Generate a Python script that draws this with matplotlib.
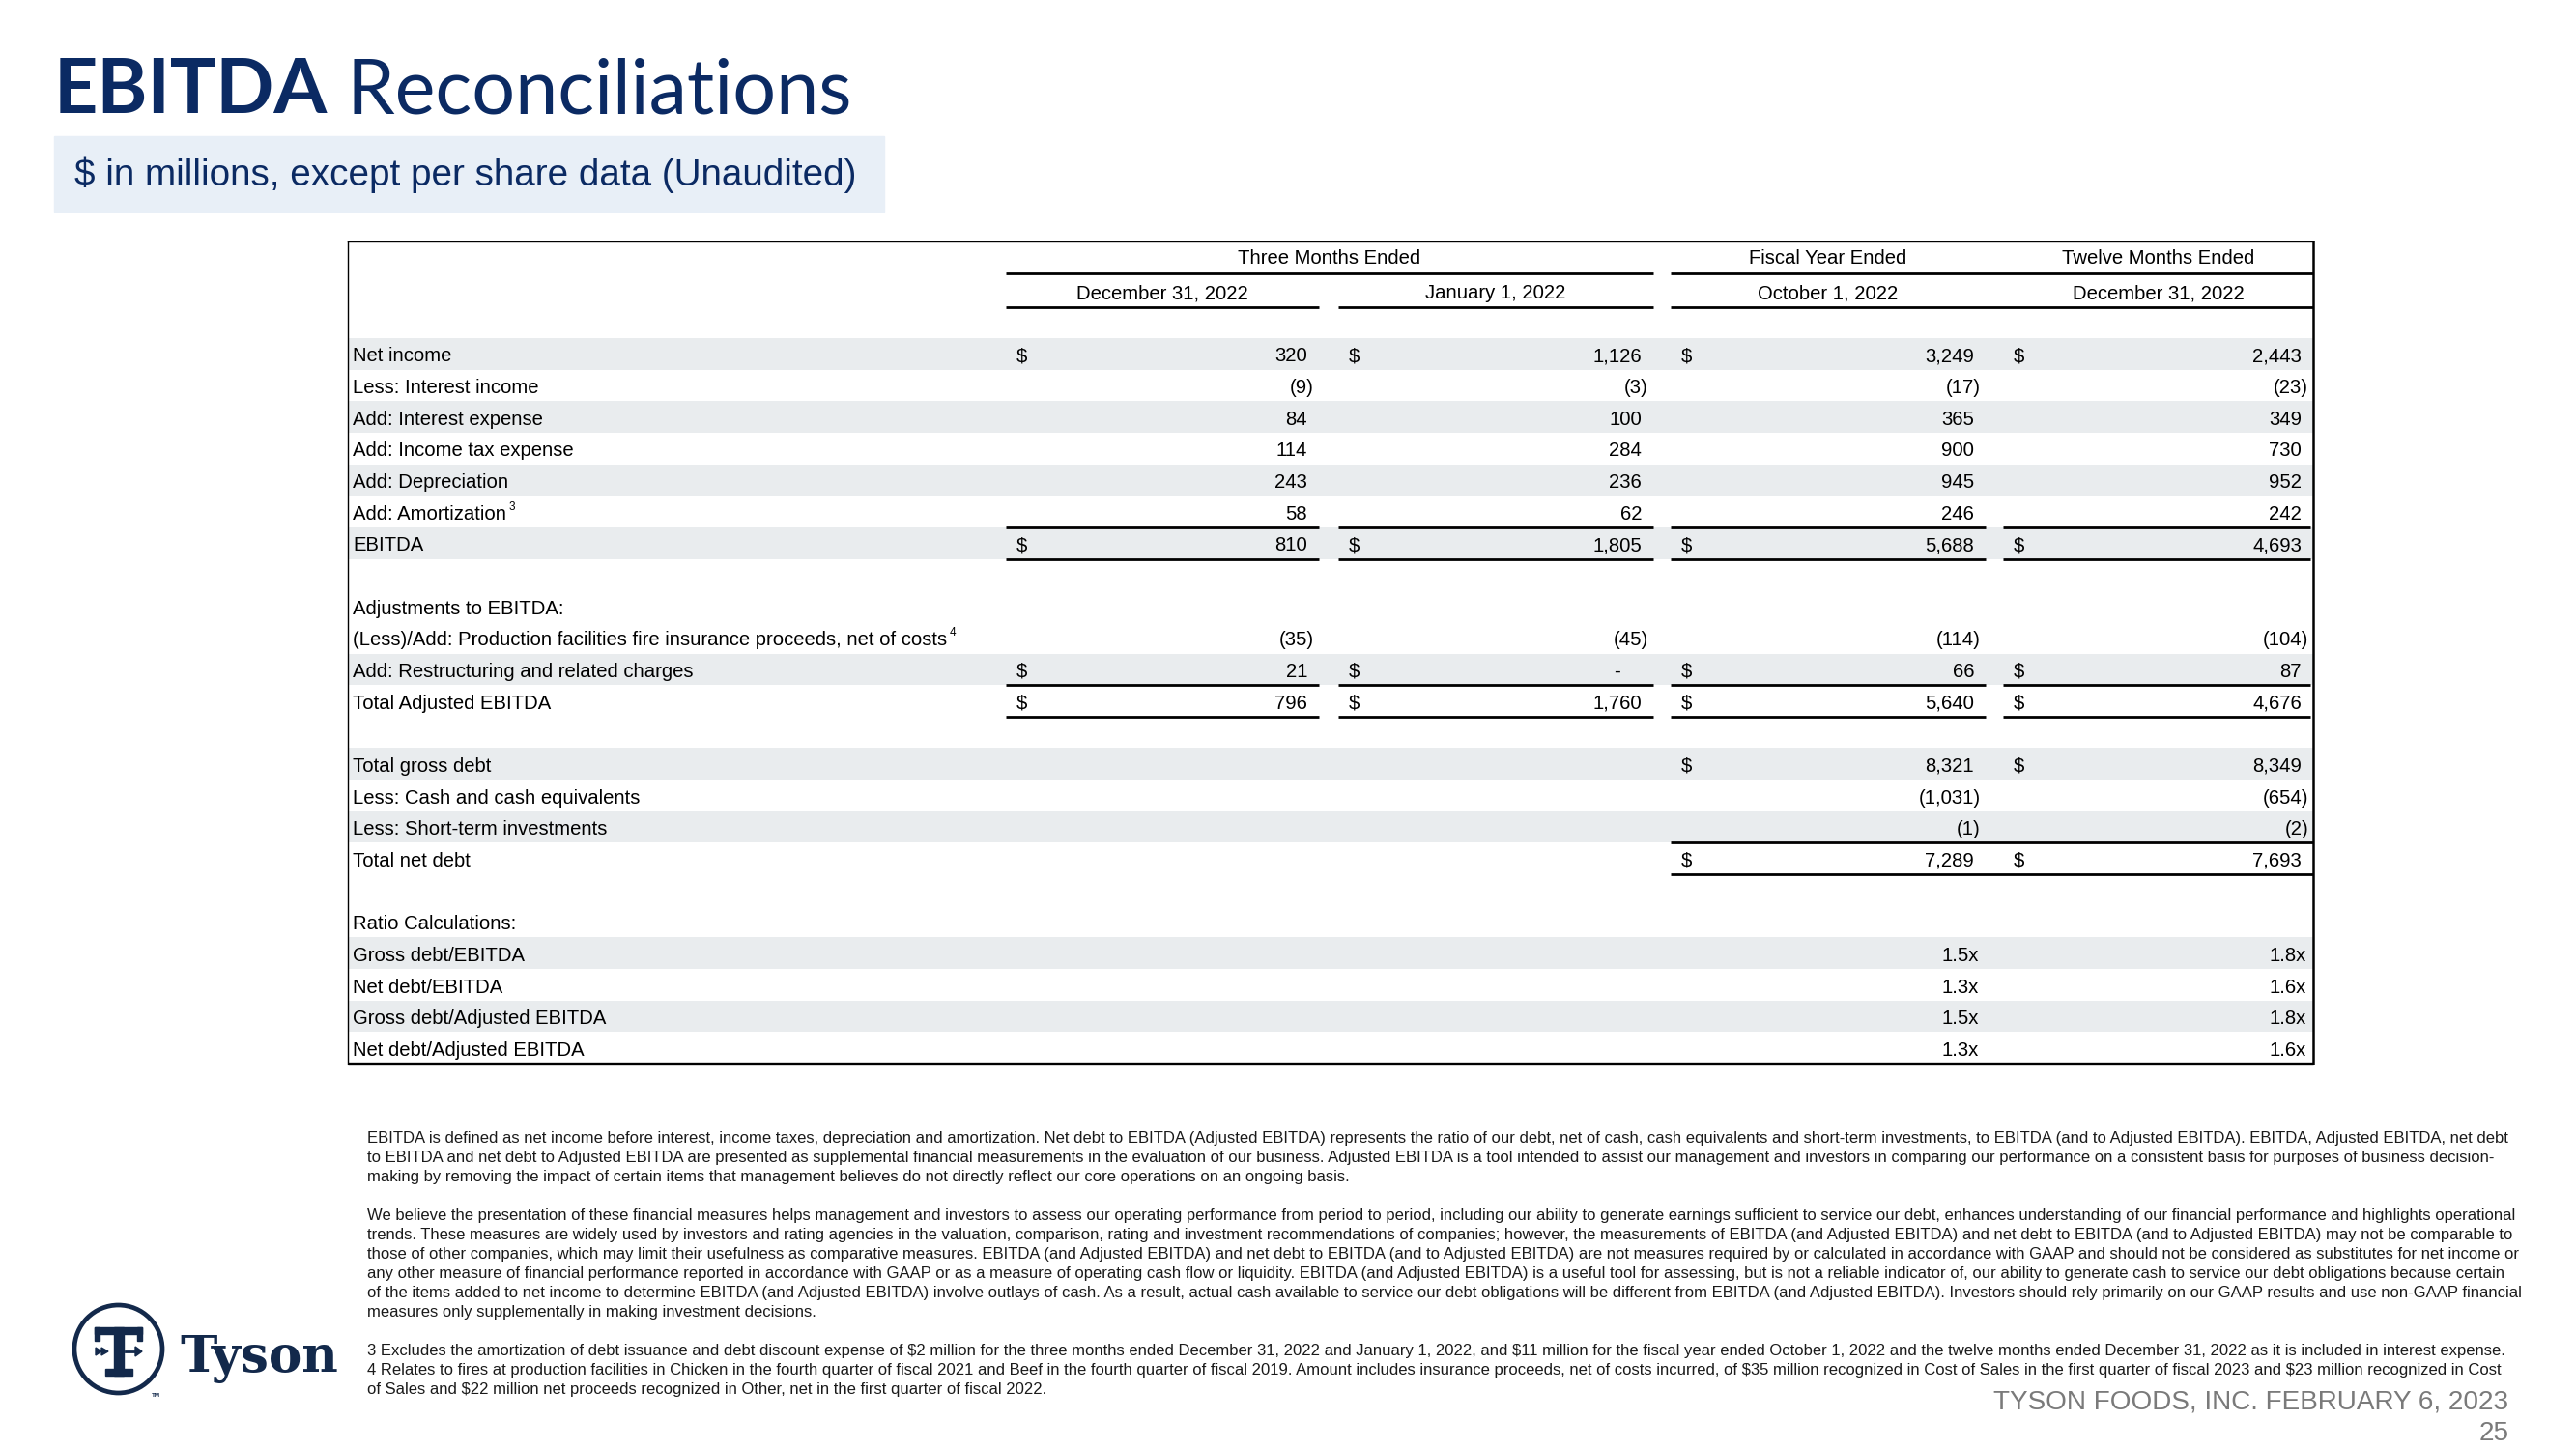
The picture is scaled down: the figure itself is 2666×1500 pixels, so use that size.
import matplotlib
matplotlib.use("Agg")
import matplotlib.pyplot as plt
from matplotlib import font_manager
from matplotlib.patches import Rectangle, Circle, Polygon

# ---- table content -------------------------------------------------------
labels = [
    "Net income", "Less: Interest income", "Add: Interest expense",
    "Add: Income tax expense", "Add: Depreciation", "Add: Amortization",
    "EBITDA", "",
    "Adjustments to EBITDA:",
    "(Less)/Add: Production facilities fire insurance proceeds, net of costs",
    "Add: Restructuring and related charges", "Total Adjusted EBITDA", "",
    "Total gross debt", "Less: Cash and cash equivalents",
    "Less: Short-term investments", "Total net debt", "",
    "Ratio Calculations:", "Gross debt/EBITDA", "Net debt/EBITDA",
    "Gross debt/Adjusted EBITDA", "Net debt/Adjusted EBITDA",
]
q1_fy23 = [320, -9, 84, 114, 243, 58, 810, None, None, -35, 21, 796] + [None] * 11
q1_fy22 = [1126, -3, 100, 284, 236, 62, 1805, None, None, -45, 0, 1760] + [None] * 11
fy22 = [3249, -17, 365, 900, 945, 246, 5688, None, None, -114, 66, 5640, None,
        8321, -1031, -1, 7289, None, None, 1.5, 1.3, 1.5, 1.3]
ltm_dec22 = [2443, -23, 349, 730, 952, 242, 4693, None, None, -104, 87, 4676, None,
             8349, -654, -2, 7693, None, None, 1.8, 1.6, 1.8, 1.6]
columns = [q1_fy23, q1_fy22, fy22, ltm_dec22]

group_headers = ["Three Months Ended", "Fiscal Year Ended", "Twelve Months Ended"]
col_headers = ["December 31, 2022", "January 1, 2022", "October 1, 2022", "December 31, 2022"]

ratio_rows = [19, 20, 21, 22]
dollar_rows = [0, 6, 10, 11, 13, 16]
shaded_rows = [0, 2, 4, 6, 10, 13, 15, 19, 21]
superscripts = {5: "3", 9: "4"}

notes_p1 = [
    "EBITDA is defined as net income before interest, income taxes, depreciation and amortization. Net debt to EBITDA (Adjusted EBITDA) represents the ratio of our debt, net of cash, cash equivalents and short-term investments, to EBITDA (and to Adjusted EBITDA). EBITDA, Adjusted EBITDA, net debt",
    "to EBITDA and net debt to Adjusted EBITDA are presented as supplemental financial measurements in the evaluation of our business. Adjusted EBITDA is a tool intended to assist our management and investors in comparing our performance on a consistent basis for purposes of business decision-",
    "making by removing the impact of certain items that management believes do not directly reflect our core operations on an ongoing basis.",
]
notes_p2 = [
    "We believe the presentation of these financial measures helps management and investors to assess our operating performance from period to period, including our ability to generate earnings sufficient to service our debt, enhances understanding of our financial performance and highlights operational",
    "trends. These measures are widely used by investors and rating agencies in the valuation, comparison, rating and investment recommendations of companies; however, the measurements of EBITDA (and Adjusted EBITDA) and net debt to EBITDA (and to Adjusted EBITDA) may not be comparable to",
    "those of other companies, which may limit their usefulness as comparative measures. EBITDA (and Adjusted EBITDA) and net debt to EBITDA (and to Adjusted EBITDA) are not measures required by or calculated in accordance with GAAP and should not be considered as substitutes for net income or",
    "any other measure of financial performance reported in accordance with GAAP or as a measure of operating cash flow or liquidity. EBITDA (and Adjusted EBITDA) is a useful tool for assessing, but is not a reliable indicator of, our ability to generate cash to service our debt obligations because certain",
    "of the items added to net income to determine EBITDA (and Adjusted EBITDA) involve outlays of cash. As a result, actual cash available to service our debt obligations will be different from EBITDA (and Adjusted EBITDA). Investors should rely primarily on our GAAP results and use non-GAAP financial",
    "measures only supplementally in making investment decisions.",
]
notes_p3 = [
    "3 Excludes the amortization of debt issuance and debt discount expense of $2 million for the three months ended December 31, 2022 and January 1, 2022, and $11 million for the fiscal year ended October 1, 2022 and the twelve months ended December 31, 2022 as it is included in interest expense.",
    "4 Relates to fires at production facilities in Chicken in the fourth quarter of fiscal 2021 and Beef in the fourth quarter of fiscal 2019. Amount includes insurance proceeds, net of costs incurred, of $35 million recognized in Cost of Sales in the first quarter of fiscal 2023 and $23 million recognized in Cost",
    "of Sales and $22 million net proceeds recognized in Other, net in the first quarter of fiscal 2022.",
]

NAVY = "#0b2a63"
LOGO = "#13294b"
SHADE = "#e9ecee"
BOX = "#e8eff7"
GREY = "#7a7a7a"

installed = {f.name for f in font_manager.fontManager.ttflist}


def pick(*names):
    for n in names:
        if n in installed:
            return n
    return "DejaVu Sans"


SANS = pick("Liberation Sans", "Arial")
TITLE = pick("Lato", "Open Sans")
SERIF = pick("DejaVu Serif", "Liberation Serif")

W, H = 2666, 1500
fig = plt.figure(figsize=(W / 100, H / 100), dpi=100)
ax = fig.add_axes([0, 0, 1, 1])
ax.set_xlim(0, W)
ax.set_ylim(H, 0)
ax.axis("off")
renderer = fig.canvas.get_renderer()


def width(t):
    return t.get_window_extent(renderer).width


def fit(t, target):
    t.set_fontsize(t.get_fontsize() * target / width(t))
    return t


def hline(x0, x1, y, lw=2.0):
    ax.plot([x0, x1], [y, y], color="black", lw=lw, solid_capstyle="butt", zorder=3)


# ---- title ---------------------------------------------------------------
t1 = ax.text(56, 117, "EBITDA", fontsize=60, fontweight="bold", family=TITLE,
             color=NAVY, va="baseline")
t2 = ax.text(56, 117, " Reconciliations", fontsize=60, family=TITLE,
             color=NAVY, va="baseline")
scale = 826 / (width(t1) + width(t2))
t1.set_fontsize(60 * scale)
t2.set_fontsize(60 * scale)
t2.set_x(56 + width(t1))

ax.add_patch(Rectangle((56, 141), 859, 78, color=BOX, zorder=0))
sub = ax.text(77, 192, "$ in millions, except per share data (Unaudited)",
              fontsize=24, family=SANS, color=NAVY, va="baseline", parse_math=False)
fit(sub, 809)

# ---- table ---------------------------------------------------------------
TL, TR, TT, TB = 360, 2394, 250, 1101
row_top0, pitch = 350, 32.65
col_l = [1041, 1385, 1729, 2073]
col_r = [1365, 1711, 2055, 2394]
FS = 14.6

for i in shaded_rows:
    ax.add_patch(Rectangle((TL, row_top0 + i * pitch), TR - TL, pitch,
                           color=SHADE, zorder=0, lw=0))

# border
ax.plot([TL, TR], [TT, TT], color="black", lw=1.0, zorder=3)
ax.plot([TL, TL], [TT, TB], color="black", lw=1.0, zorder=3)
ax.plot([TR, TR], [TT, TB], color="black", lw=1.8, zorder=3)
hline(TL, TR, TB, lw=2.4)

# headers
group_spans = [(col_l[0], col_r[1]), (col_l[2], col_r[2]), (col_l[3], col_r[3])]
for text, (a, b) in zip(group_headers, group_spans):
    ax.text((a + b) / 2, 273, text, fontsize=FS, family=SANS, ha="center", va="baseline")
hline(col_l[0], col_r[1], 283)
hline(col_l[2], col_r[3], 283)
for j, text in enumerate(col_headers):
    ax.text((col_l[j] + col_r[j]) / 2, 309, text, fontsize=FS, family=SANS,
            ha="center", va="baseline")
hline(col_l[0], col_r[0], 318)
hline(col_l[1], col_r[1], 318)
hline(col_l[2], col_r[3], 318)


def fmt(v, ratio):
    if ratio:
        return f"{v:.1f}x", 5
    if v == 0:
        return "-", -22
    if v < 0:
        return f"({-v:,})", 7
    return f"{v:,}", 0


for i, lab in enumerate(labels):
    top = row_top0 + i * pitch
    base = top + 24.5
    if lab:
        t = ax.text(365, base, lab, fontsize=FS, family=SANS, va="baseline")
        if i in superscripts:
            ax.text(365 + width(t) + 3, base - 10, superscripts[i], fontsize=8.5,
                    family=SANS, va="baseline")
    for j, col in enumerate(columns):
        v = col[i]
        if v is None:
            continue
        s, off = fmt(v, i in ratio_rows)
        ax.text(col_r[j] - 12 + off, base, s, fontsize=FS, family=SANS,
                ha="right", va="baseline")
        if i in dollar_rows:
            ax.text(col_l[j] + 11, base, "$", fontsize=FS, family=SANS, va="baseline",
                    parse_math=False)

# total rules
for i in (6, 11):
    for j in range(4):
        hline(col_l[j], col_r[j] - (3 if j == 3 else 0), row_top0 + i * pitch)
        hline(col_l[j], col_r[j] - (3 if j == 3 else 0), row_top0 + (i + 1) * pitch)
hline(col_l[2], TR, row_top0 + 16 * pitch)
hline(col_l[2], TR, row_top0 + 17 * pitch)

# ---- notes ---------------------------------------------------------------
probe = ax.text(380, 0, notes_p1[0], fontsize=10, family=SANS)
NOTE_FS = probe.get_fontsize() * 2215 / width(probe)
probe.remove()
note_y = [1178, 1198, 1218, 1258, 1278, 1298, 1318, 1338, 1358, 1398, 1418, 1438]
for y, line in zip(note_y, notes_p1 + notes_p2 + notes_p3):
    ax.text(380, y, line, fontsize=NOTE_FS, family=SANS, color="#1a1a1a",
            va="center", parse_math=False)

# ---- footer --------------------------------------------------------------
foot = ax.text(2596, 1451, "TYSON FOODS, INC. FEBRUARY 6, 2023", fontsize=16,
               family=SANS, color=GREY, ha="right", va="center")
fit(foot, 535)
ax.text(2597, 1484, "25", fontsize=foot.get_fontsize(), family=SANS, color=GREY,
        ha="right", va="center")

# ---- logo ----------------------------------------------------------------
ax.add_patch(Circle((122.5, 1396.5), 45.5, fill=False, ec=LOGO, lw=3.4))
ax.add_patch(Rectangle((98, 1374), 49, 7, color=LOGO))
ax.add_patch(Rectangle((98, 1374), 5, 14, color=LOGO))
ax.add_patch(Rectangle((142, 1374), 5, 14, color=LOGO))
ax.add_patch(Rectangle((118, 1374), 10, 50, color=LOGO))
ax.add_patch(Rectangle((109, 1417), 28, 7, color=LOGO))
ax.add_patch(Polygon([(99, 1395), (105, 1399), (99, 1403)], color=LOGO))
ax.add_patch(Polygon([(105, 1395), (112, 1399), (105, 1403)], color=LOGO))
ax.plot([130, 141], [1399, 1399], color=LOGO, lw=2)
ax.add_patch(Polygon([(140, 1394), (147, 1399), (140, 1404)], color=LOGO))
tys = ax.text(186, 1420, "Tyson", fontsize=41, fontweight="bold", family=SERIF,
              color=LOGO, va="baseline")
fit(tys, 164)
ax.text(157, 1446, "TM", fontsize=4.5, family=SANS, color=LOGO, fontweight="bold")

fig.savefig("out.png", dpi=100, facecolor="white")
